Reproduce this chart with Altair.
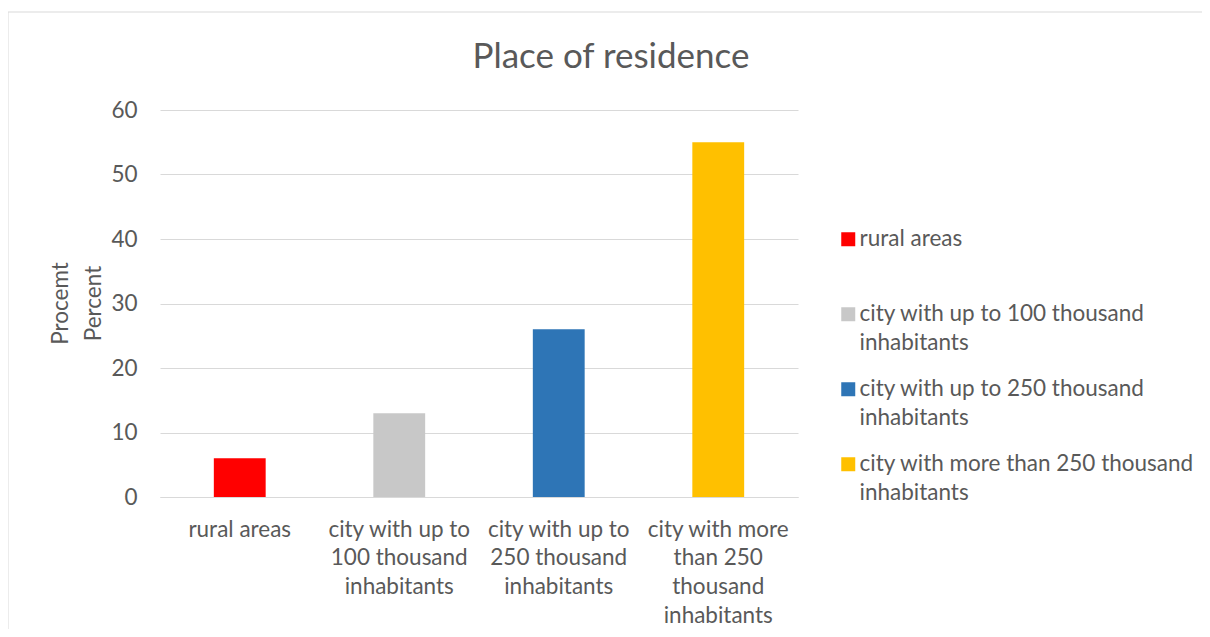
import json
import altair as alt
import pandas as pd

categories = [
    "rural areas",
    "city with up to 100 thousand inhabitants",
    "city with up to 250 thousand inhabitants",
    "city with more than 250 thousand inhabitants",
]
values = [6, 13, 26, 55]
colors = ["#FF0000", "#C8C8C8", "#2E75B6", "#FFC000"]
axis_label_lines = [
    ["rural areas"],
    ["city with up to", "100 thousand", "inhabitants"],
    ["city with up to", "250 thousand", "inhabitants"],
    ["city with more", "than 250", "thousand", "inhabitants"],
]
legend_label_lines = [
    ["rural areas"],
    ["city with up to 100 thousand", "inhabitants"],
    ["city with up to 250 thousand", "inhabitants"],
    ["city with more than 250 thousand", "inhabitants"],
]
y_ticks = [0, 10, 20, 30, 40, 50, 60]
title_text = "Place of residence"
y_title = ["Procemt", "Percent"]

FONT = "Lato"
FS = 22.5
TXT = "#595959"
GRID = "#D9D9D9"


def label_expr(cats, lines):
    expr = "datum.label"
    for c, l in reversed(list(zip(cats, lines))):
        expr = f"datum.label == {json.dumps(c)} ? {json.dumps(l)} : ({expr})"
    return expr


df = pd.DataFrame({"category": categories, "value": values})

frame = alt.Chart(pd.DataFrame({"d": [0]})).mark_rect(
    fillOpacity=0, stroke=GRID, strokeWidth=1
).encode(
    x=alt.value(-152), x2=alt.value(1300), y=alt.value(-98), y2=alt.value(700)
)

title = alt.Chart(pd.DataFrame({"t": [title_text]})).mark_text(
    font=FONT, fontSize=35, color=TXT, align="center", baseline="alphabetic"
).encode(text="t:N", x=alt.value(451), y=alt.value(-42))

bars = alt.Chart(df).mark_bar().encode(
    x=alt.X(
        "category:N",
        sort=categories,
        scale=alt.Scale(domain=categories, paddingInner=0.675, paddingOuter=0.3375),
        axis=alt.Axis(
            title=None,
            labelAngle=0,
            labelExpr=label_expr(categories, axis_label_lines),
            labelFont=FONT,
            labelFontSize=FS,
            labelColor=TXT,
            labelLineHeight=28.7,
            labelPadding=21,
            labelLimit=300,
            ticks=False,
            domain=True,
            domainColor=GRID,
            domainWidth=1,
            grid=False,
        ),
    ),
    y=alt.Y(
        "value:Q",
        scale=alt.Scale(domain=[0, 60], nice=False),
        axis=alt.Axis(
            title=y_title,
            values=y_ticks,
            labelFont=FONT,
            labelFontSize=FS,
            labelColor=TXT,
            labelPadding=23,
            ticks=False,
            domain=False,
            gridColor=GRID,
            gridWidth=1,
            titleFont=FONT,
            titleFontSize=FS,
            titleFontWeight="normal",
            titleColor=TXT,
            titleLineHeight=33,
            titleAngle=270,
            titleAlign="center",
            titleBaseline="alphabetic",
            titleX=-93,
            titleY=193,
        ),
    ),
    color=alt.Color(
        "category:N",
        scale=alt.Scale(domain=categories, range=colors),
        legend=alt.Legend(
            title=None,
            orient="none",
            legendX=677,
            legendY=118,
            padding=0,
            gridAlign="all",
            symbolType="square",
            symbolSize=196,
            symbolStrokeWidth=0,
            labelFont=FONT,
            labelFontSize=FS,
            labelColor=TXT,
            labelOffset=0,
            labelLimit=500,
            rowPadding=23,
            labelExpr=label_expr(categories, legend_label_lines),
        ),
    ),
)

chart = (
    alt.layer(frame, title, bars)
    .properties(
        width=638,
        height=387,
        autosize=alt.AutoSizeParams(type="none"),
        padding={"left": 152, "top": 102, "right": 404, "bottom": 132},
    )
    .configure(
        style={"guide-label": alt.MarkConfig(lineHeight=28.5)},
        view=alt.ViewConfig(stroke=None),
    )
)

chart.save("out.html", embed_options={"renderer": "svg", "actions": False})
